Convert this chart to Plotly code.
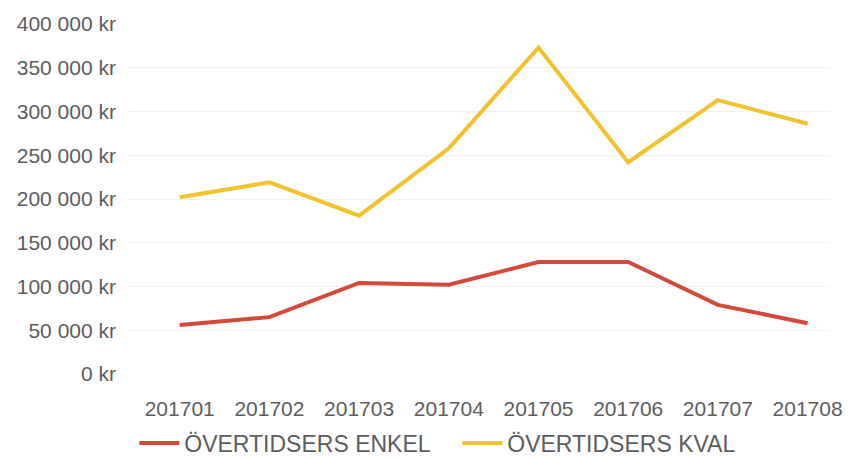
import plotly.graph_objects as go

months = ["201701", "201702", "201703", "201704", "201705", "201706", "201707", "201708"]
enkel = [56000, 65000, 104000, 102000, 128000, 128000, 79000, 58000]
kval = [202000, 219000, 181000, 258000, 373000, 242000, 313000, 286000]
ytick_vals = [0, 50000, 100000, 150000, 200000, 250000, 300000, 350000, 400000]
ytick_text = ["0 kr", "50 000 kr", "100 000 kr", "150 000 kr", "200 000 kr",
              "250 000 kr", "300 000 kr", "350 000 kr", "400 000 kr"]

fig = go.Figure()
fig.add_trace(go.Scatter(x=months, y=enkel, mode="lines", name="ÖVERTIDSERS ENKEL",
                         line=dict(color="#d44a3a", width=4)))
fig.add_trace(go.Scatter(x=months, y=kval, mode="lines", name="ÖVERTIDSERS KVAL",
                         line=dict(color="#f3c22e", width=4)))

fig.update_layout(
    width=850, height=460,
    margin=dict(l=125, r=20, t=24, b=86, autoexpand=False),
    paper_bgcolor="white", plot_bgcolor="white",
    font=dict(family="Liberation Sans, Arial", size=21, color="#5c5c5c"),
    showlegend=True,
    legend=dict(orientation="h", x=0.158, xanchor="left", xref="container",
                y=0.037, yanchor="middle", yref="container",
                font=dict(size=23, color="#5c5c5c"), itemwidth=40,
                entrywidth=268, entrywidthmode="pixels",
                tracegroupgap=0, bgcolor="rgba(0,0,0,0)"),
    xaxis=dict(type="category", range=[-0.61, 7.25], showgrid=False, zeroline=False,
               showline=False, ticks="", ticklabelstandoff=20, automargin=False,
               tickfont=dict(size=21)),
    yaxis=dict(range=[0, 400000], tickvals=ytick_vals, ticktext=ytick_text,
               showgrid=True, gridcolor="#f3f3f3", zeroline=False, showline=False,
               ticks="", ticklabelstandoff=8, automargin=False,
               tickfont=dict(size=21)),
)

fig.write_html("out.html", config={"displayModeBar": False},
               post_script="document.body.style.margin='0';")
